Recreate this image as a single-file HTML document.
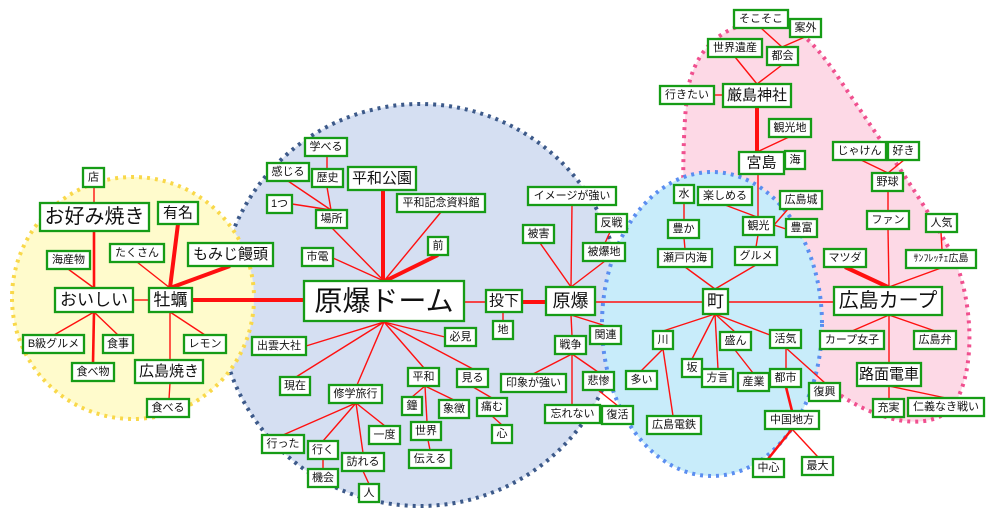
<!DOCTYPE html>
<html><head><meta charset="utf-8"><style>
html,body{margin:0;padding:0;background:#fff;}
svg{display:block}
text{font-family:"Liberation Sans","Noto Sans CJK JP",sans-serif;fill:#111;text-anchor:middle;dominant-baseline:central}
.b{fill:#fff;stroke:#169c16;stroke-width:2.3}
.l{stroke:#ff1010;stroke-width:1.4;fill:none}
.t{stroke:#ff1010;stroke-width:4;fill:none}
.m{stroke:#ff1010;stroke-width:2.6;fill:none}
</style></head><body>
<svg width="1000" height="519" viewBox="0 0 1000 519">
<path d="M690,330 C682,250 680,120 690,80 C700,45 725,25 760,22 C790,20 810,35 840,80 C880,140 930,210 955,260 C975,310 975,380 950,410 C920,435 870,415 840,395 C800,370 720,370 690,330 Z" fill="#fdd9e6" stroke="#f0508f" stroke-width="4" stroke-dasharray="3 5"/>
<circle cx="420" cy="305" r="201" fill="#d5dff2" stroke="#3d5a8a" stroke-width="4" stroke-dasharray="3 5"/>
<circle cx="133" cy="298" r="121" fill="#fffbcc" stroke="#f9d84a" stroke-width="4" stroke-dasharray="3 5"/>
<ellipse cx="712" cy="324" rx="110" ry="152" fill="#c8ecfa" stroke="#5b8ef0" stroke-width="4" stroke-dasharray="3 5"/>
<line class="t" x1="192" y1="300" x2="304" y2="300"/>
<line class="t" x1="383" y1="190" x2="383" y2="281"/>
<line class="t" x1="438" y1="255" x2="385" y2="281"/>
<line class="t" x1="178" y1="224" x2="170" y2="288"/>
<line class="t" x1="230" y1="266" x2="170" y2="288"/>
<line class="t" x1="522" y1="302" x2="546" y2="302"/>
<line class="t" x1="757" y1="107" x2="757" y2="152"/>
<line class="t" x1="845" y1="267" x2="888" y2="287"/>
<line class="m" x1="786" y1="387" x2="792" y2="411"/>
<line class="m" x1="792" y1="429" x2="768" y2="459"/>
<line class="m" x1="94" y1="312" x2="93" y2="363"/>
<line class="m" x1="94" y1="231" x2="94" y2="288"/>
<g class="l">
<line x1="384" y1="281" x2="332" y2="228"/><line x1="384" y1="281" x2="333" y2="258"/><line x1="384" y1="281" x2="441" y2="212"/>
<line x1="384" y1="322" x2="306" y2="346"/><line x1="384" y1="322" x2="296" y2="377"/><line x1="384" y1="322" x2="357" y2="385"/>
<line x1="384" y1="322" x2="424" y2="368"/><line x1="384" y1="322" x2="473" y2="369"/><line x1="384" y1="322" x2="445" y2="337"/>
<line x1="464" y1="302" x2="486" y2="302"/><line x1="503" y1="312" x2="503" y2="321"/>
<line x1="571" y1="287" x2="572" y2="205"/><line x1="571" y1="287" x2="540" y2="243"/><line x1="571" y1="287" x2="605" y2="261"/>
<line x1="610" y1="232" x2="605" y2="243"/>
<line x1="571" y1="315" x2="606" y2="326"/><line x1="571" y1="315" x2="572" y2="336"/>
<line x1="572" y1="354" x2="533" y2="374"/><line x1="572" y1="354" x2="598" y2="372"/><line x1="572" y1="354" x2="572" y2="405"/>
<line x1="598" y1="390" x2="618" y2="406"/>
<line x1="595" y1="302" x2="703" y2="302"/><line x1="728" y1="302" x2="834" y2="302"/>
<line x1="715" y1="289" x2="685" y2="267"/><line x1="715" y1="289" x2="756" y2="265"/>
<line x1="685" y1="249" x2="684" y2="238"/><line x1="684" y1="220" x2="684" y2="203"/>
<line x1="756" y1="247" x2="758" y2="235"/><line x1="725" y1="205" x2="757" y2="217"/>
<line x1="758" y1="217" x2="758" y2="174"/><line x1="774" y1="225" x2="788" y2="209"/><line x1="774" y1="225" x2="786" y2="229"/>
<line x1="784" y1="163" x2="785" y2="160"/><line x1="757" y1="152" x2="789" y2="137"/>
<line x1="714" y1="95" x2="723" y2="95"/><line x1="757" y1="84" x2="735" y2="57"/><line x1="757" y1="84" x2="782" y2="65"/>
<line x1="782" y1="47" x2="761" y2="28"/><line x1="782" y1="47" x2="805" y2="37"/>
<line x1="715" y1="314" x2="663" y2="331"/><line x1="715" y1="314" x2="692" y2="359"/><line x1="715" y1="314" x2="718" y2="369"/>
<line x1="715" y1="314" x2="735" y2="332"/><line x1="715" y1="314" x2="770" y2="335"/>
<line x1="663" y1="349" x2="641" y2="371"/><line x1="663" y1="349" x2="673" y2="416"/>
<line x1="735" y1="350" x2="753" y2="373"/>
<line x1="786" y1="348" x2="786" y2="369"/><line x1="786" y1="348" x2="825" y2="383"/>
<line x1="792" y1="429" x2="818" y2="457"/>
<line x1="889" y1="287" x2="888" y2="229"/><line x1="889" y1="287" x2="941" y2="268"/>
<line x1="888" y1="211" x2="888" y2="191"/><line x1="888" y1="173" x2="861" y2="160"/><line x1="888" y1="173" x2="904" y2="160"/>
<line x1="941" y1="232" x2="942" y2="250"/>
<line x1="889" y1="315" x2="852" y2="331"/><line x1="889" y1="315" x2="935" y2="331"/><line x1="889" y1="315" x2="889" y2="363"/>
<line x1="889" y1="386" x2="889" y2="399"/><line x1="889" y1="386" x2="946" y2="398"/>
<line x1="133" y1="300" x2="149" y2="300"/><line x1="94" y1="288" x2="68" y2="269"/><line x1="94" y1="203" x2="94" y2="187"/>
<line x1="170" y1="288" x2="137" y2="262"/>
<line x1="94" y1="312" x2="54" y2="335"/><line x1="94" y1="312" x2="118" y2="335"/>
<line x1="170" y1="312" x2="205" y2="335"/><line x1="170" y1="312" x2="170" y2="360"/><line x1="170" y1="383" x2="169" y2="399"/>
<line x1="331" y1="210" x2="288" y2="181"/><line x1="331" y1="210" x2="327" y2="187"/><line x1="331" y1="210" x2="292" y2="204"/>
<line x1="327" y1="169" x2="327" y2="156"/>
<line x1="356" y1="403" x2="283" y2="435"/><line x1="356" y1="403" x2="323" y2="441"/><line x1="356" y1="403" x2="363" y2="453"/><line x1="356" y1="403" x2="385" y2="426"/>
<line x1="323" y1="459" x2="323" y2="469"/><line x1="363" y1="471" x2="369" y2="484"/>
<line x1="425" y1="386" x2="412" y2="397"/><line x1="425" y1="386" x2="454" y2="400"/><line x1="425" y1="386" x2="427" y2="422"/>
<line x1="428" y1="440" x2="430" y2="450"/>
<line x1="473" y1="387" x2="492" y2="398"/><line x1="492" y1="416" x2="502" y2="425"/>
</g>
<g>
<rect class="b" x="83" y="168" width="21" height="19"/><text x="93.5" y="177.5" font-size="11">店</text>
<rect class="b" x="40" y="203" width="109" height="28"/><text x="94.5" y="217" font-size="20">お好み焼き</text>
<rect class="b" x="158" y="202" width="40" height="22"/><text x="178" y="213" font-size="15">有名</text>
<rect class="b" x="47" y="251" width="43" height="18"/><text x="68.5" y="260" font-size="11">海産物</text>
<rect class="b" x="110" y="244" width="54" height="18"/><text x="137" y="253" font-size="11">たくさん</text>
<rect class="b" x="188" y="243" width="85" height="23"/><text x="230.5" y="254.5" font-size="15">もみじ饅頭</text>
<rect class="b" x="55" y="288" width="78" height="24"/><text x="94" y="300" font-size="17">おいしい</text>
<rect class="b" x="149" y="288" width="43" height="24"/><text x="170.5" y="300" font-size="17">牡蠣</text>
<rect class="b" x="304" y="281" width="160" height="40"/><text x="384" y="301" font-size="28">原爆ドーム</text>
<rect class="b" x="23" y="335" width="61" height="18"/><text x="53.5" y="344" font-size="11">B級グルメ</text>
<rect class="b" x="103" y="335" width="30" height="18"/><text x="118" y="344" font-size="11">食事</text>
<rect class="b" x="184" y="335" width="42" height="18"/><text x="205" y="344" font-size="11">レモン</text>
<rect class="b" x="72" y="363" width="42" height="18"/><text x="93" y="372" font-size="11">食べ物</text>
<rect class="b" x="135" y="360" width="68" height="23"/><text x="169" y="371.5" font-size="15">広島焼き</text>
<rect class="b" x="147" y="399" width="42" height="18"/><text x="168" y="408" font-size="11">食べる</text>
<rect class="b" x="305" y="138" width="42" height="18"/><text x="326" y="147" font-size="11">学べる</text>
<rect class="b" x="267" y="163" width="42" height="18"/><text x="288" y="172" font-size="11">感じる</text>
<rect class="b" x="312" y="169" width="31" height="18"/><text x="327.5" y="178" font-size="11">歴史</text>
<rect class="b" x="348" y="167" width="68" height="23"/><text x="382" y="178.5" font-size="15">平和公園</text>
<rect class="b" x="267" y="195" width="25" height="18"/><text x="279.5" y="204" font-size="11">1つ</text>
<rect class="b" x="397" y="194" width="88" height="18"/><text x="441" y="203" font-size="11">平和記念資料館</text>
<rect class="b" x="316" y="210" width="31" height="18"/><text x="331.5" y="219" font-size="11">場所</text>
<rect class="b" x="428" y="237" width="20" height="18"/><text x="438" y="246" font-size="11">前</text>
<rect class="b" x="302" y="248" width="31" height="18"/><text x="317.5" y="257" font-size="11">市電</text>
<rect class="b" x="252" y="337" width="54" height="18"/><text x="279" y="346" font-size="11">出雲大社</text>
<rect class="b" x="445" y="328" width="31" height="18"/><text x="460.5" y="337" font-size="11">必見</text>
<rect class="b" x="280" y="377" width="30" height="18"/><text x="295" y="386" font-size="11">現在</text>
<rect class="b" x="329" y="385" width="53" height="18"/><text x="355.5" y="394" font-size="11">修学旅行</text>
<rect class="b" x="408" y="368" width="31" height="18"/><text x="423.5" y="377" font-size="11">平和</text>
<rect class="b" x="457" y="369" width="31" height="18"/><text x="472.5" y="378" font-size="11">見る</text>
<rect class="b" x="402" y="397" width="20" height="18"/><text x="412" y="406" font-size="11">鐘</text>
<rect class="b" x="439" y="400" width="30" height="18"/><text x="454" y="409" font-size="11">象徴</text>
<rect class="b" x="477" y="398" width="30" height="18"/><text x="492" y="407" font-size="11">痛む</text>
<rect class="b" x="492" y="425" width="20" height="18"/><text x="502" y="434" font-size="11">心</text>
<rect class="b" x="411" y="422" width="30" height="18"/><text x="426" y="431" font-size="11">世界</text>
<rect class="b" x="369" y="426" width="31" height="18"/><text x="384.5" y="435" font-size="11">一度</text>
<rect class="b" x="409" y="450" width="42" height="18"/><text x="430" y="459" font-size="11">伝える</text>
<rect class="b" x="262" y="435" width="42" height="18"/><text x="283" y="444" font-size="11">行った</text>
<rect class="b" x="308" y="441" width="30" height="18"/><text x="323" y="450" font-size="11">行く</text>
<rect class="b" x="342" y="453" width="42" height="18"/><text x="363" y="462" font-size="11">訪れる</text>
<rect class="b" x="308" y="469" width="30" height="18"/><text x="323" y="478" font-size="11">機会</text>
<rect class="b" x="359" y="484" width="20" height="18"/><text x="369" y="493" font-size="11">人</text>
<rect class="b" x="486" y="290" width="36" height="22"/><text x="504" y="301" font-size="15">投下</text>
<rect class="b" x="493" y="321" width="20" height="18"/><text x="503" y="330" font-size="11">地</text>
<rect class="b" x="546" y="287" width="49" height="28"/><text x="570.5" y="301" font-size="18">原爆</text>
<rect class="b" x="528" y="187" width="88" height="18"/><text x="572" y="196" font-size="11">イメージが強い</text>
<rect class="b" x="523" y="225" width="31" height="18"/><text x="538.5" y="234" font-size="11">被害</text>
<rect class="b" x="596" y="214" width="31" height="18"/><text x="611.5" y="223" font-size="11">反戦</text>
<rect class="b" x="583" y="243" width="42" height="18"/><text x="604" y="252" font-size="11">被爆地</text>
<rect class="b" x="590" y="326" width="31" height="18"/><text x="605.5" y="335" font-size="11">関連</text>
<rect class="b" x="555" y="336" width="31" height="18"/><text x="570.5" y="345" font-size="11">戦争</text>
<rect class="b" x="501" y="374" width="65" height="18"/><text x="533.5" y="383" font-size="11">印象が強い</text>
<rect class="b" x="583" y="372" width="31" height="18"/><text x="598.5" y="381" font-size="11">悲惨</text>
<rect class="b" x="545" y="405" width="55" height="18"/><text x="572.5" y="414" font-size="11">忘れない</text>
<rect class="b" x="602" y="406" width="31" height="18"/><text x="617.5" y="415" font-size="11">復活</text>
<rect class="b" x="674" y="185" width="20" height="18"/><text x="684" y="194" font-size="11">水</text>
<rect class="b" x="698" y="187" width="54" height="18"/><text x="725" y="196" font-size="11">楽しめる</text>
<rect class="b" x="780" y="191" width="42" height="18"/><text x="801" y="200" font-size="11">広島城</text>
<rect class="b" x="668" y="220" width="31" height="18"/><text x="683.5" y="229" font-size="11">豊か</text>
<rect class="b" x="743" y="217" width="31" height="18"/><text x="758.5" y="226" font-size="11">観光</text>
<rect class="b" x="786" y="219" width="31" height="18"/><text x="801.5" y="228" font-size="11">豊富</text>
<rect class="b" x="658" y="249" width="54" height="18"/><text x="685" y="258" font-size="11">瀬戸内海</text>
<rect class="b" x="735" y="247" width="42" height="18"/><text x="756" y="256" font-size="11">グルメ</text>
<rect class="b" x="703" y="289" width="25" height="25"/><text x="715.5" y="301.5" font-size="17">町</text>
<rect class="b" x="653" y="331" width="20" height="18"/><text x="663" y="340" font-size="11">川</text>
<rect class="b" x="720" y="332" width="31" height="18"/><text x="735.5" y="341" font-size="11">盛ん</text>
<rect class="b" x="770" y="330" width="31" height="18"/><text x="785.5" y="339" font-size="11">活気</text>
<rect class="b" x="682" y="359" width="20" height="18"/><text x="692" y="368" font-size="11">坂</text>
<rect class="b" x="626" y="371" width="31" height="18"/><text x="641.5" y="380" font-size="11">多い</text>
<rect class="b" x="702" y="369" width="31" height="18"/><text x="717.5" y="378" font-size="11">方言</text>
<rect class="b" x="738" y="373" width="31" height="18"/><text x="753.5" y="382" font-size="11">産業</text>
<rect class="b" x="770" y="369" width="31" height="18"/><text x="785.5" y="378" font-size="11">都市</text>
<rect class="b" x="809" y="383" width="31" height="18"/><text x="824.5" y="392" font-size="11">復興</text>
<rect class="b" x="647" y="416" width="54" height="18"/><text x="674" y="425" font-size="11">広島電鉄</text>
<rect class="b" x="765" y="411" width="54" height="18"/><text x="792" y="420" font-size="11">中国地方</text>
<rect class="b" x="753" y="459" width="31" height="18"/><text x="768.5" y="468" font-size="11">中心</text>
<rect class="b" x="802" y="457" width="31" height="18"/><text x="817.5" y="466" font-size="11">最大</text>
<rect class="b" x="734" y="10" width="54" height="18"/><text x="761" y="19" font-size="11">そこそこ</text>
<rect class="b" x="790" y="19" width="31" height="18"/><text x="805.5" y="28" font-size="11">案外</text>
<rect class="b" x="708" y="39" width="54" height="18"/><text x="735" y="48" font-size="11">世界遺産</text>
<rect class="b" x="767" y="47" width="31" height="18"/><text x="782.5" y="56" font-size="11">都会</text>
<rect class="b" x="660" y="86" width="54" height="18"/><text x="687" y="95" font-size="11">行きたい</text>
<rect class="b" x="723" y="84" width="68" height="23"/><text x="757" y="95.5" font-size="15">厳島神社</text>
<rect class="b" x="769" y="119" width="42" height="18"/><text x="790" y="128" font-size="11">観光地</text>
<rect class="b" x="739" y="152" width="45" height="22"/><text x="761.5" y="163" font-size="15">宮島</text>
<rect class="b" x="785" y="151" width="20" height="18"/><text x="795" y="160" font-size="11">海</text>
<rect class="b" x="833" y="142" width="53" height="18"/><text x="859.5" y="151" font-size="11">じゃけん</text>
<rect class="b" x="888" y="142" width="31" height="18"/><text x="903.5" y="151" font-size="11">好き</text>
<rect class="b" x="872" y="173" width="31" height="18"/><text x="887.5" y="182" font-size="11">野球</text>
<rect class="b" x="867" y="211" width="42" height="18"/><text x="888" y="220" font-size="11">ファン</text>
<rect class="b" x="926" y="214" width="31" height="18"/><text x="941.5" y="223" font-size="11">人気</text>
<rect class="b" x="824" y="249" width="42" height="18"/><text x="845" y="258" font-size="11">マツダ</text>
<rect class="b" x="906" y="250" width="70" height="18"/><text x="941" y="259" font-size="10">ｻﾝﾌﾚｯﾁｪ広島</text>
<rect class="b" x="834" y="287" width="108" height="28"/><text x="888" y="301" font-size="20">広島カープ</text>
<rect class="b" x="820" y="331" width="64" height="18"/><text x="852" y="340" font-size="11">カープ女子</text>
<rect class="b" x="914" y="331" width="42" height="18"/><text x="935" y="340" font-size="11">広島弁</text>
<rect class="b" x="857" y="363" width="64" height="23"/><text x="889" y="374.5" font-size="15">路面電車</text>
<rect class="b" x="873" y="399" width="31" height="18"/><text x="888.5" y="408" font-size="11">充実</text>
<rect class="b" x="908" y="398" width="76" height="18"/><text x="946" y="407" font-size="11">仁義なき戦い</text>
</g>
</svg>
</body></html>
